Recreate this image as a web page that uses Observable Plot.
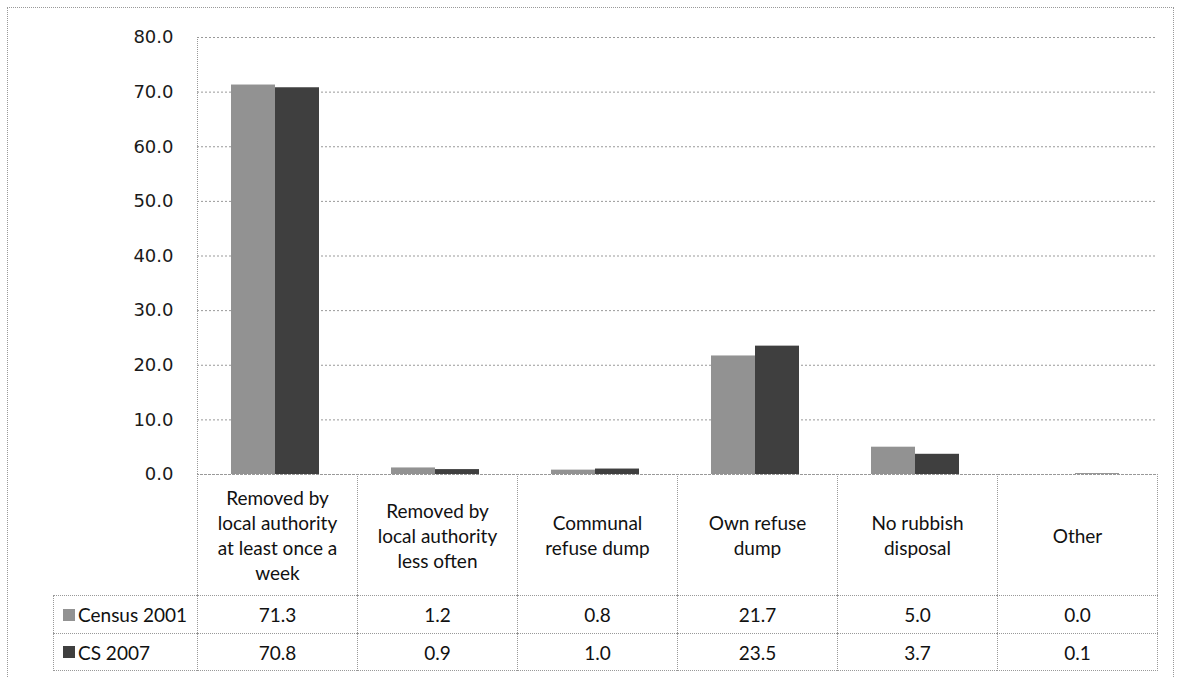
<!DOCTYPE html>
<html>
<head>
<meta charset="utf-8">
<script src="https://cdn.jsdelivr.net/npm/d3@7"></script>
<script src="https://cdn.jsdelivr.net/npm/@observablehq/plot@0.6"></script>
<style>
  html, body { margin: 0; padding: 0; background: #fff; }
  #wrap { position: relative; width: 1178px; height: 678px; overflow: hidden; background: #fff; }
  #chart { position: absolute; left: 0; top: 0; }
  .cell { position: absolute; box-sizing: border-box; display: flex; align-items: center; justify-content: center;
          text-align: center; font-family: Lato, "Open Sans", sans-serif; font-size: 19px; color: #111; line-height: 25px; }
  .bl { border-left: 1px dotted #999; }
  .bt { border-top: 1px dotted #999; }
  .br { border-right: 1px dotted #999; }
  .bb { border-bottom: 1px dotted #999; }
  .key { display: inline-block; width: 12px; height: 12px; margin-right: 3px; }
</style>
</head>
<body>
<div id="wrap">
  <div id="chart"></div>
</div>
<script>
// ---- data ----
const categories = [
  "Removed by local authority at least once a week",
  "Removed by local authority less often",
  "Communal refuse dump",
  "Own refuse dump",
  "No rubbish disposal",
  "Other"
];
const categoryLines = [
  ["Removed by", "local authority", "at least once a", "week"],
  ["Removed by", "local authority", "less often"],
  ["Communal", "refuse dump"],
  ["Own refuse", "dump"],
  ["No rubbish", "disposal"],
  ["Other"]
];
const series = ["Census 2001", "CS 2007"];
const census2001 = [71.3, 1.2, 0.8, 21.7, 5.0, 0.0];
const cs2007 = [70.8, 0.9, 1.0, 23.5, 3.7, 0.1];
const yTicks = [0, 10, 20, 30, 40, 50, 60, 70, 80];
const seriesColors = ["#929292", "#3f3f3f"];

const valuesBySeries = [census2001, cs2007];
const data = categories.flatMap((c, i) =>
  series.map((s, j) => ({category: c, series: s, value: valuesBySeries[j][i]}))
);

const chart = Plot.plot({
  width: 1178,
  height: 678,
  marginLeft: 195,
  marginRight: 20,
  marginTop: 37,
  marginBottom: 204,
  style: {fontFamily: "DejaVu Sans", fontSize: "18px", background: "transparent"},
  fx: {domain: categories, padding: 0, axis: null},
  x: {domain: series, axis: null, paddingInner: 0, paddingOuter: 0.783, align: 0.47},
  y: {domain: [0, 80], axis: null},
  color: {domain: series, range: seriesColors},
  marks: [
    Plot.gridY(yTicks, {stroke: "#999", strokeOpacity: 1, strokeDasharray: "2,2"}),
    Plot.barY(data, {fx: "category", x: "series", y: "value", fill: "series"}),
    Plot.axisY(yTicks, {tickFormat: d => d.toFixed(1), tickSize: 0, tickPadding: 24, fill: "#1a1a1a", fontSize: 18, label: null})
  ]
});
document.getElementById("chart").appendChild(chart);

// ---- data table under the chart, aligned to the fx scale ----
const wrap = document.getElementById("wrap");
const fx = chart.scale("fx");
const y = chart.scale("y");
const y0 = y.apply(0);
const yTop = y.apply(80);
const bw = fx.bandwidth;
const leftEdge = fx.apply(categories[0]);
const labelLeft = 53;
const rowTops = [y0, y0 + 121, y0 + 159];
const rowHeights = [121, 38, 37];

function addCell(x, top, w, h, cls, html) {
  const d = document.createElement("div");
  d.className = "cell " + cls;
  d.style.left = x + "px";
  d.style.top = top + "px";
  d.style.width = w + "px";
  d.style.height = h + "px";
  d.innerHTML = html;
  wrap.appendChild(d);
  return d;
}

// vertical axis line of the plot area
const axisLine = document.createElement("div");
axisLine.style.cssText = `position:absolute;left:${leftEdge}px;top:${yTop}px;height:${y0 - yTop}px;border-left:1px dotted #999;`;
wrap.appendChild(axisLine);

categories.forEach((c, i) => {
  const x = fx.apply(c);
  const last = i === categories.length - 1;
  addCell(x, rowTops[0], bw + (last ? 1 : 0), rowHeights[0], "bl bt" + (last ? " br" : ""),
    "<div>" + categoryLines[i].join("<br>") + "</div>");
  addCell(x, rowTops[1], bw + (last ? 1 : 0), rowHeights[1], "bl bt" + (last ? " br" : ""),
    census2001[i].toFixed(1));
  addCell(x, rowTops[2], bw + (last ? 1 : 0), rowHeights[2] + 1, "bl bt bb" + (last ? " br" : ""),
    cs2007[i].toFixed(1));
});
series.forEach((s, j) => {
  const d = addCell(labelLeft, rowTops[j + 1], leftEdge - labelLeft, rowHeights[j + 1] + (j === 1 ? 1 : 0),
    "bl bt" + (j === 1 ? " bb" : ""),
    `<span class="key" style="background:${seriesColors[j]}"></span>${s}`);
  d.style.justifyContent = "flex-start";
  d.style.paddingLeft = "9px";
});

// outer chart border
const outer = document.createElement("div");
outer.style.cssText = "position:absolute;left:7px;top:7px;width:1167px;height:700px;border:1px dotted #999;box-sizing:border-box;";
wrap.appendChild(outer);
</script>
</body>
</html>
